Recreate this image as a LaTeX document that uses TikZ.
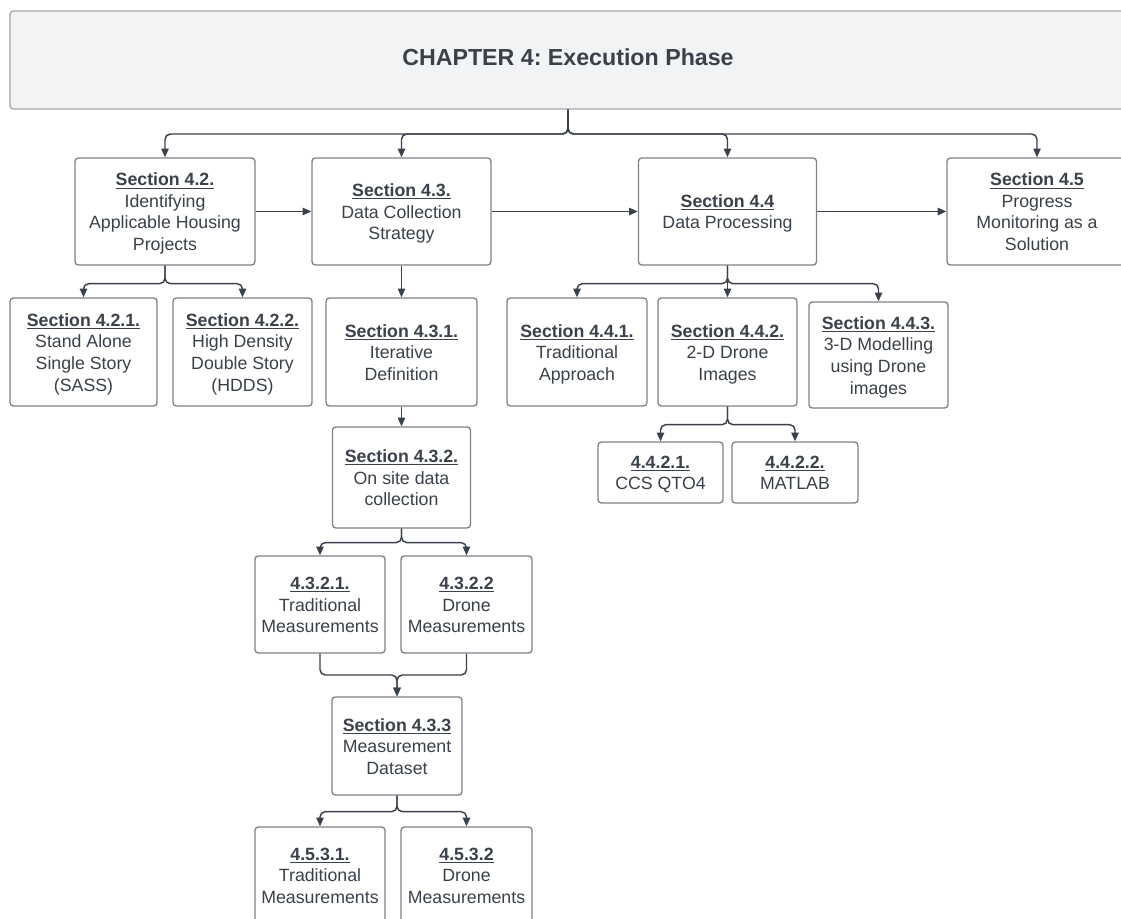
\documentclass[tikz,border=0pt]{standalone}
\usepackage{fontspec}
\setmainfont{Liberation Sans}
\usetikzlibrary{arrows.meta}
\definecolor{ink}{HTML}{3A414A}
\definecolor{edge}{HTML}{7D828A}
\definecolor{headfill}{HTML}{F2F3F5}
\definecolor{headedge}{HTML}{A3A6AB}
% underlined bold heading followed by the body lines, with struts that fix
% the height of the first line and the depth of the last one
\newcommand\entry[2]{\rule{0pt}{13pt}\underline{\textbf{#1}}\\#2\rule[-3pt]{0pt}{3pt}}
\frenchspacing
\begin{document}
\begin{tikzpicture}[x=0.75pt,y=-0.75pt,
  box/.style={draw=edge, line width=1pt, rounded corners=2.5pt, fill=white,
    align=center, text=ink, inner sep=0pt, font=\fontsize{13.3}{16.2}\selectfont},
  header/.style={draw=headedge, line width=1pt, rounded corners=2.5pt, fill=headfill,
    text=ink, inner sep=0pt, text depth=4.5pt, font=\bfseries\fontsize{17.4}{20}\selectfont},
  size/.style 2 args={minimum width=#1*0.75pt, minimum height=#2*0.75pt},
  conn/.style={draw=ink, line width=1.1pt, rounded corners=4pt,
    -{Triangle[length=6.5pt,width=5.5pt]}}]
\clip (0,0) rectangle (1121,919);

% chapter header
\node[header, size={1116}{98}] (top) at (568,60) {CHAPTER 4: Execution Phase};

% main sections
\node[box,size={180}{107}] (s42) at (165,211.5) {\entry{Section 4.2.}{Identifying\\Applicable Housing\\Projects}};
\node[box,size={179}{107}] (s43) at (401.5,211.5) {\entry{Section 4.3.}{Data Collection\\Strategy}};
\node[box,size={178}{107}] (s44) at (727.5,211.5) {\entry{Section 4.4}{Data Processing}};
\node[box,size={180}{107}] (s45) at (1037,211.5) {\entry{Section 4.5}{Progress\\Monitoring as a\\Solution}};

% subsections
\node[box,size={147}{108}] (s421) at (83.5,352) {\entry{Section 4.2.1.}{Stand Alone\\Single Story\\(SASS)}};
\node[box,size={139}{108}] (s422) at (242.5,352) {\entry{Section 4.2.2.}{High Density\\Double Story\\(HDDS)}};
\node[box,size={151}{108}] (s431) at (401.5,352) {\entry{Section 4.3.1.}{Iterative\\Definition}};
\node[box,size={140}{108}] (s441) at (577,352) {\entry{Section 4.4.1.}{Traditional\\Approach}};
\node[box,size={139}{108}] (s442) at (727.5,352) {\entry{Section 4.4.2.}{2-D Drone\\Images}};
\node[box,size={139}{106}] (s443) at (878.5,355) {\entry{Section 4.4.3.}{3-D Modelling\\using Drone\\images}};

\node[box,size={125}{61}] (s4421) at (660.5,472.5) {\entry{4.4.2.1.}{CCS QTO4}};
\node[box,size={126}{61}] (s4422) at (795,472.5) {\entry{4.4.2.2.}{MATLAB}};

\node[box,size={138}{101}] (s432) at (401.5,477.5) {\entry{Section 4.3.2.}{On site data\\collection}};
\node[box,size={130}{97}] (s4321) at (320,604.5) {\entry{4.3.2.1.}{Traditional\\Measurements}};
\node[box,size={131}{97}] (s4322) at (466.5,604.5) {\entry{4.3.2.2}{Drone\\Measurements}};
\node[box,size={130}{98}] (s433) at (397,746) {\entry{Section 4.3.3}{Measurement\\Dataset}};
\node[box,size={130}{96}] (s4531) at (320,875) {\entry{4.5.3.1.}{Traditional\\Measurements}};
\node[box,size={131}{96}] (s4532) at (466.5,875) {\entry{4.5.3.2}{Drone\\Measurements}};

% header to main sections
\coordinate (bus) at (568,134);
\foreach \t in {s42,s43,s44,s45}
  \draw[conn] (top.south) -- (bus) -| (\t.north);

% main sections in sequence
\draw[conn] (s42.east) -- (s43.west);
\draw[conn] (s43.east) -- (s44.west);
\draw[conn] (s44.east) -- (s45.west);

% section 4.2
\foreach \t in {s421,s422}
  \draw[conn] (s42.south) -- ++(0,18) -| (\t.north);
% section 4.3
\draw[conn] (s43.south) -- (s431.north);
\draw[conn] (s431.south) -- (s432.north);
\foreach \t in {s4321,s4322}
  \draw[conn] (s432.south) -- ++(0,14) -| (\t.north);
\coordinate (merge) at (397,675);
\foreach \t in {s4321,s4322}
  \draw[conn] (\t.south) |- (merge) -- (s433.north);
\foreach \t in {s4531,s4532}
  \draw[conn] (s433.south) -- ++(0,16) -| (\t.north);
% section 4.4
\foreach \t in {s441,s442,s443}
  \draw[conn] (s44.south) -- ++(0,18) -| (\t.north);
\foreach \t in {s4421,s4422}
  \draw[conn] (s442.south) -- ++(0,18) -| (\t.north);
\end{tikzpicture}
\end{document}
